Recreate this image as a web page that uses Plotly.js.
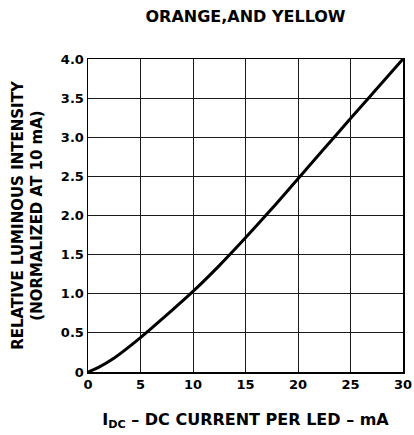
<!DOCTYPE html>
<html><head><meta charset="utf-8">
<script src="https://cdn.plot.ly/plotly-3.0.1.min.js"></script>
<style>html,body{margin:0;padding:0;background:#fff}#chart{width:414px;height:435px}</style>
</head><body><div id="chart"></div>
<script>
const currentMA = [0,1,2.5,5,7.5,10,12.5,15,17.5,20,22.5,25,27.5,30];
const relIntensity = [0,0.06,0.18,0.44,0.73,1.03,1.36,1.715,2.085,2.47,2.855,3.24,3.62,4.0];
const xTickVals = [0,5,10,15,20,25,30];
const xTickText = ['0','5','10','15','20','25','30'];
const yTickVals = [0,0.5,1,1.5,2,2.5,3,3.5,4];
const yTickText = ['0','0.5','1.0','1.5','2.0','2.5','3.0','3.5','4.0'];

const F = 'DejaVu Sans, Liberation Sans, Arial, sans-serif';
const trace = {
  x: currentMA, y: relIntensity, type: 'scatter', mode: 'lines',
  line: {color: '#000', width: 3, shape: 'spline', smoothing: 1},
  hoverinfo: 'skip'
};
const layout = {
  width: 414, height: 435,
  margin: {l: 88, r: 11, t: 59, b: 63},
  paper_bgcolor: '#fff', plot_bgcolor: '#fff',
  showlegend: false,
  font: {family: F, color: '#000', size: 13, weight: 'bold'},
  title: {text: '<b>ORANGE,AND YELLOW</b>', x: 0.593, xanchor: 'center', y: 0.963, yanchor: 'middle',
          font: {family: F, size: 16, color: '#000'}},
  xaxis: {
    range: [0, 30], tickvals: xTickVals, ticktext: xTickText, ticks: '',
    showgrid: true, gridcolor: '#1a1a1a', gridwidth: 1, zeroline: false,
    showline: true, linecolor: '#000', linewidth: 1.5, mirror: true,
    tickfont: {family: F, size: 13, color: '#000', weight: 'bold'},
    title: {text: '<b>I<sub>DC</sub> – DC CURRENT PER LED – mA</b>', standoff: 22,
            font: {family: F, size: 16, color: '#000'}}
  },
  yaxis: {
    range: [0, 4], tickvals: yTickVals, ticktext: yTickText, ticks: '',
    showgrid: true, gridcolor: '#1a1a1a', gridwidth: 1, zeroline: false,
    showline: true, linecolor: '#000', linewidth: 1.5, mirror: true,
    tickfont: {family: F, size: 13, color: '#000', weight: 'bold'},
    title: {text: '<b>RELATIVE LUMINOUS INTENSITY<br>(NORMALIZED AT 10 mA)</b>', standoff: 14,
            font: {family: F, size: 15, color: '#000'}}
  }
};
Plotly.newPlot('chart', [trace], layout, {staticPlot: true, displayModeBar: false});
</script></body></html>
